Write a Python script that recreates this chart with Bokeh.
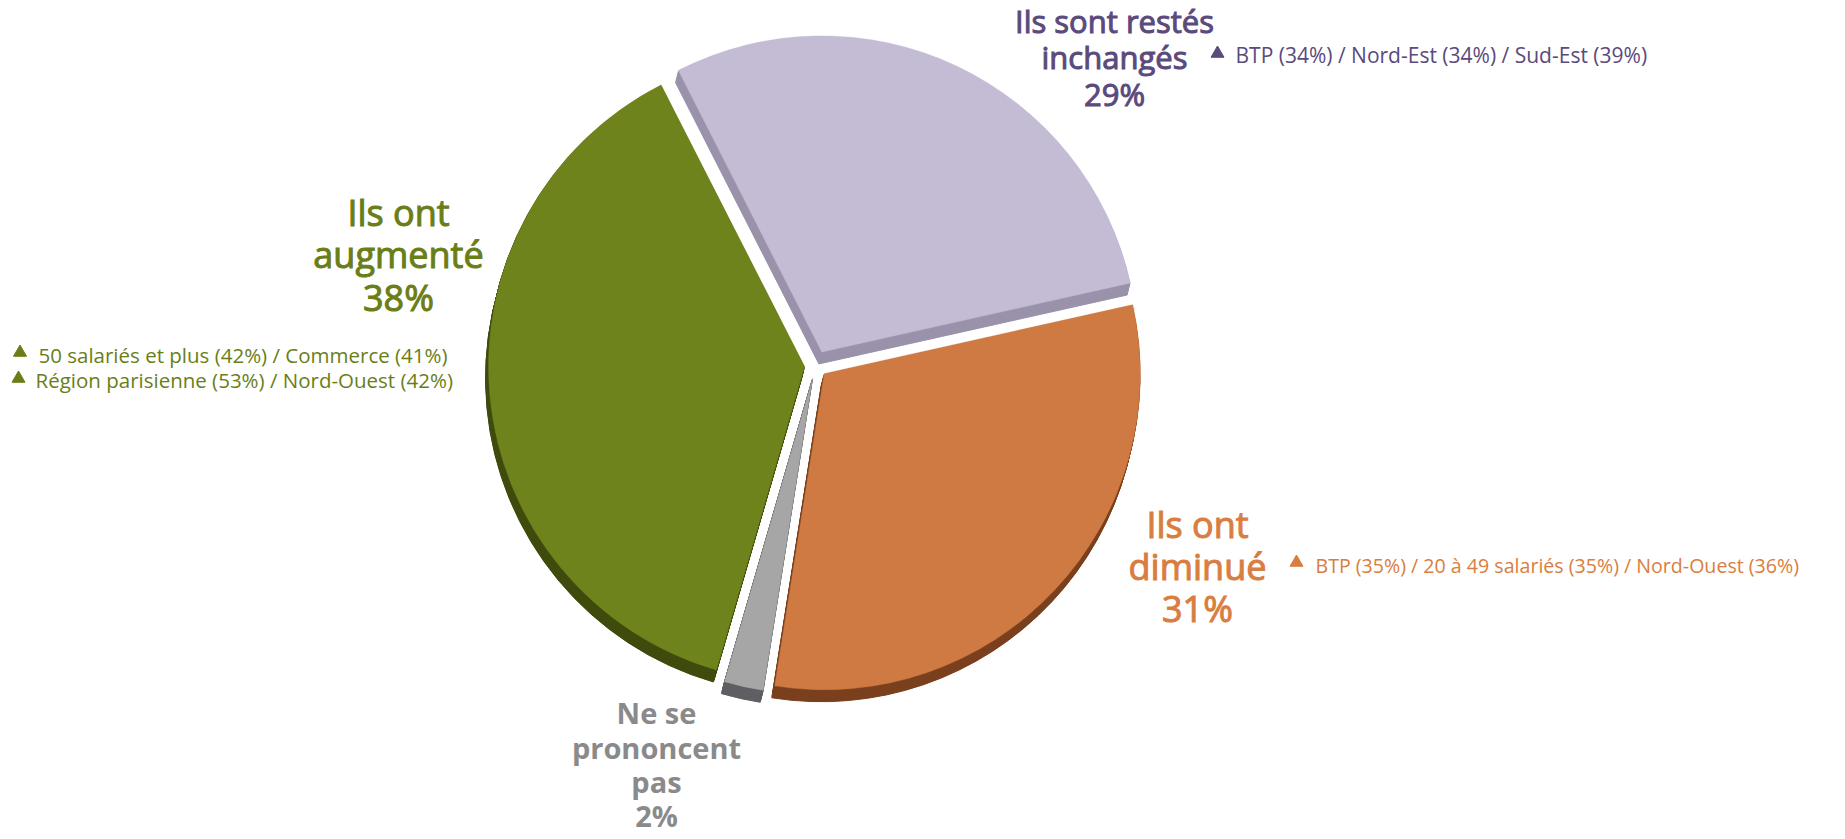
import math
from bokeh.plotting import figure
from bokeh.models import Range1d, ColumnDataSource
from bokeh.core.properties import value
from bokeh.embed import file_html
from bokeh.resources import INLINE

# ---------------- data ----------------
categories = ["Ils sont restés inchangés", "Ils ont diminué", "Ne se prononcent pas", "Ils ont augmenté"]
percentages = [29, 31, 2, 38]
label_lines = [["Ils sont restés", "inchangés"], ["Ils ont", "diminué"],
               ["Ne se", "prononcent", "pas"], ["Ils ont", "augmenté"]]
notes_inchanges = ["BTP (34%) / Nord-Est (34%) / Sud-Est (39%)"]
notes_diminue = ["BTP (35%) / 20 à 49 salariés (35%) / Nord-Ouest (36%)"]
notes_augmente = ["50 salariés et plus (42%) / Commerce (41%)",
                  "Région parisienne (53%) / Nord-Ouest (42%)"]

# ---------------- styles / layout ----------------
W, H = 1840, 838
def px(X):  # screen x (reference) -> data x
    return X
def py(Y):  # screen y (reference) -> data y
    return H - Y
def ty_(Y, size):  # text baseline correction
    return H - (Y - (0.33 * size + 1))

top_colors = ["#C4BCD4", "#CF7A42", "#A6A6A6", "#6E831C"]
side_colors = ["#9A92AA", "#7A3F1C", "#5F5F63", "#3E4B0D"]
text_colors = ["#5B4A7D", "#D97E40", "#8A8A8A", "#6A7E17"]
explode = [15, 12, 13, 11]
start_deg = 117.0
cx, cy = px(815), py(365)
R = 316
depth = 12
side_dx = -3

p = figure(width=W, height=H, x_range=Range1d(0, W), y_range=Range1d(0, H),
           output_backend="svg", toolbar_location=None,
           x_axis_type=None, y_axis_type=None, min_border=0)
p.outline_line_color = None
p.grid.visible = False
p.background_fill_color = "white"
p.border_fill_color = "white"

# compute wedges from the data
xs, ys, a0s, a1s = [], [], [], []
cum = 0.0
for v, e in zip(percentages, explode):
    a_start = start_deg - cum * 3.6
    a_end = a_start - v * 3.6
    mid = math.radians((a_start + a_end) / 2)
    xs.append(cx + e * math.cos(mid))
    ys.append(cy + e * math.sin(mid))
    a0s.append(math.radians(a_end))
    a1s.append(math.radians(a_start))
    cum += v

# 3D sides
sx, sy, s0, s1, sc = [], [], [], [], []
for k in range(1, depth + 1):
    for i in range(len(percentages)):
        sx.append(xs[i] + side_dx * k / depth)
        sy.append(ys[i] - k)
        s0.append(a0s[i]); s1.append(a1s[i]); sc.append(side_colors[i])
side_src = ColumnDataSource(dict(x=sx, y=sy, a0=s0, a1=s1, c=sc))
p.wedge(x="x", y="y", radius=R, start_angle="a0", end_angle="a1",
        fill_color="c", line_color="c", line_width=1, source=side_src)

top_src = ColumnDataSource(dict(x=xs, y=ys, a0=a0s, a1=a1s, c=top_colors, cat=categories))
p.wedge(x="x", y="y", radius=R, start_angle="a0", end_angle="a1",
        fill_color="c", line_color="c", line_width=0.5, source=top_src)

# ---------------- labels ----------------
font = value("Open Sans")
label_pos = [  # centre x, baselines (reference screen px), size px, style
    (1114, [32, 68, 105], 31, "normal"),
    (1197, [537, 579, 621], 36, "normal"),
    (656, [723, 758, 792, 826], 29, "bold"),
    (398, [225, 267, 310], 36, "normal"),
]
for i, (lx, bases, size, style) in enumerate(label_pos):
    lines = label_lines[i] + [f"{percentages[i]}%"]
    src = ColumnDataSource(dict(x=[px(lx)] * len(lines),
                                y=[ty_(b, size) for b in bases], t=lines))
    p.text(x="x", y="y", text="t", source=src, text_align="center",
           text_baseline="alphabetic", text_font=font, text_font_size=f"{size}px",
           text_font_style=style, text_color=text_colors[i],
           text_outline_color=text_colors[i] if style == "normal" else None)

# notes with triangles
note_specs = [
    (notes_inchanges, [(1217, 53, 1235, 62)], text_colors[0], 21),
    (notes_diminue, [(1296, 562, 1315, 572)], text_colors[1], 19.6),
    (notes_augmente, [(19.5, 352, 38, 362), (18, 378, 35, 387)], text_colors[3], 20.5),
]
for notes, poss, col, fs in note_specs:
    tx = [px(q[2]) for q in poss]
    tyy = [ty_(q[3], fs) for q in poss]
    p.text(x=tx, y=tyy, text=notes, text_align="left", text_baseline="alphabetic",
           text_font=font, text_font_size=f"{fs}px", text_color=col)
    p.scatter(x=[px(q[0]) for q in poss], y=[py(q[1]) for q in poss],
              marker="triangle", size=13, fill_color=col, line_color=col)

open("out.html", "w").write(file_html(p, INLINE))
